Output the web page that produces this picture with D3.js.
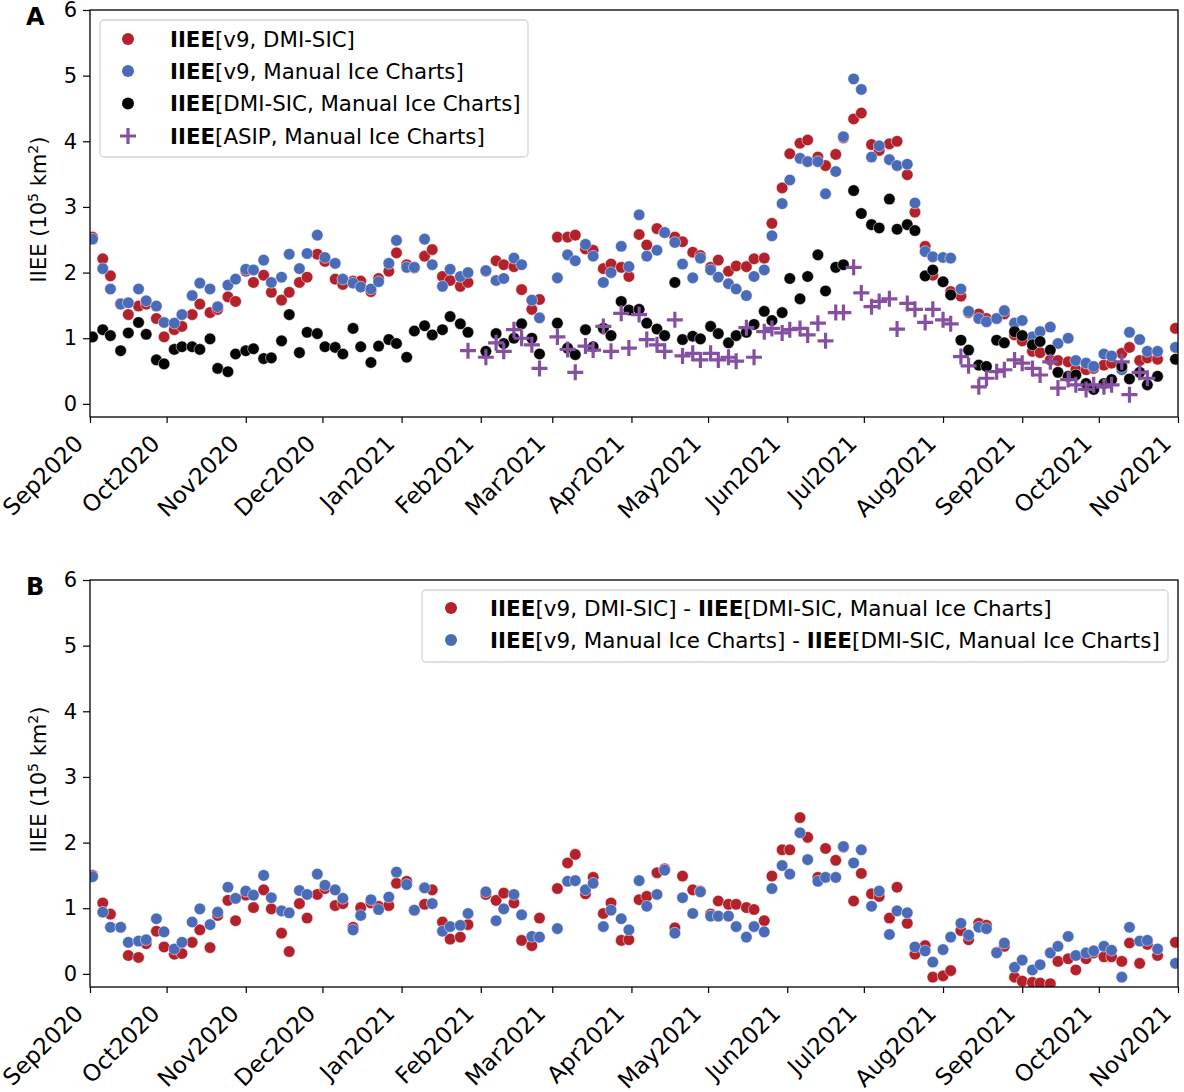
<!DOCTYPE html>
<html lang="en">
<head>
<meta charset="UTF-8">
<title>IIEE time series</title>
<style>
    body { margin: 0; background: #fff; }
    svg text { font-family: "DejaVu Sans", sans-serif; fill: #000; }
</style>
</head>
<body>
<svg id="chart" width="1184" height="1092"></svg>
<script src="https://cdnjs.cloudflare.com/ajax/libs/d3/7.8.5/d3.min.js"></script>
<script>
// days after 1 Sep 2020 of every sample
const dayOffsets = [
    1, 5, 8, 12, 15, 19, 22, 26, 29, 33,
    36, 40, 43, 47, 50, 54, 57, 61, 64, 68,
    71, 75, 78, 82, 85, 89, 92, 96, 99, 103,
    106, 110, 113, 117, 120, 124, 127, 131, 134, 138,
    141, 145, 148, 152, 155, 159, 162, 166, 169, 173,
    176, 180, 183, 187, 190, 194, 197, 201, 204, 208,
    211, 215, 218, 222, 225, 229, 232, 236, 239, 243,
    246, 250, 253, 257, 260, 264, 267, 271, 274, 278,
    281, 285, 288, 292, 295, 299, 302, 306, 309, 313,
    316, 320, 323, 327, 330, 334, 337, 341, 344, 348,
    351, 355, 358, 362, 365, 369, 372, 376, 379, 383,
    386, 390, 393, 397, 400, 404, 407, 411, 414, 418,
    421, 425
];

// panel A
const v9DmiSic = [
    2.54, 2.21, 1.95, 1.53, 1.36, 1.49, 1.52, 1.30, 1.02, 1.13,
    1.18, 1.36, 1.52, 1.39, 1.44, 1.63, 1.56, 2.02, 1.85, 1.96,
    1.70, 1.58, 1.70, 1.85, 1.93, 2.28, 2.17, 1.90, 1.82, 1.87,
    1.87, 1.71, 1.91, 2.02, 2.30, 2.12, 2.07, 2.25, 2.35, 1.94,
    1.88, 1.79, 1.85, null, 2.02, 2.18, 2.12, 2.09, 1.74, 1.44,
    1.59, null, 2.54, 2.54, 2.57, 2.36, 2.34, 2.06, 2.13, 2.08,
    1.94, 2.58, 2.42, 2.67, 2.61, 2.54, 2.47, 2.31, 2.26, 2.08,
    2.19, 2.02, 2.10, 2.09, 2.21, 2.22, 2.75, 3.29, 3.81, 3.97,
    4.02, 3.76, 3.63, 3.80, 4.05, 4.34, 4.43, 3.95, 3.86, 3.96,
    4.00, 3.49, 2.92, 2.40, 1.96, 1.86, 1.71, 1.64, 1.39, 1.37,
    1.30, 1.30, 1.37, 1.05, 0.96, 0.80, 0.78, 0.67, 0.66, 0.64,
    0.52, 0.52, 0.54, 0.59, 0.62, 0.77, 0.86, 0.66, 0.70, 0.68,
    null, 1.15
];
const v9Manual = [
    2.51, 2.06, 1.75, 1.52, 1.54, 1.75, 1.57, 1.49, 1.24, 1.23,
    1.36, 1.65, 1.84, 1.75, 1.48, 1.81, 1.90, 2.05, 2.04, 2.19,
    1.85, 1.93, 2.28, 2.06, 2.29, 2.57, 2.23, 2.14, 1.90, 1.84,
    1.78, 1.75, 1.86, 2.14, 2.49, 2.08, 2.08, 2.51, 2.12, 1.79,
    2.05, 1.94, 2.00, null, 2.03, 1.88, 1.91, 2.22, 2.12, 1.58,
    1.31, null, 1.92, 2.27, 2.18, 2.43, 2.25, 1.85, 2.00, 2.40,
    2.09, 2.88, 2.25, 2.34, 2.61, 2.46, 2.13, 1.92, 2.22, 2.04,
    1.93, 1.83, 1.75, 1.65, 1.94, 2.04, 2.56, 3.05, 3.41, 3.74,
    3.69, 3.69, 3.20, 3.54, 4.07, 4.95, 4.79, 3.76, 3.93, 3.72,
    3.63, 3.65, 3.06, 2.32, 2.24, 2.23, 2.22, 1.75, 1.41, 1.30,
    1.25, 1.30, 1.42, 1.23, 1.27, 1.02, 1.10, 1.17, 0.92, 1.00,
    0.66, 0.62, 0.57, 0.76, 0.73, 0.52, 1.09, 0.98, 0.80, 0.80,
    null, 0.86
];
const dmiManual = [
    1.02, 1.13, 1.04, 0.81, 1.08, 1.24, 1.06, 0.67, 0.61, 0.83,
    0.87, 0.87, 0.83, 0.99, 0.54, 0.49, 0.76, 0.81, 0.84, 0.69,
    0.70, 0.96, 1.36, 0.78, 1.09, 1.07, 0.87, 0.86, 0.76, 1.15,
    0.87, 0.63, 0.88, 0.98, 0.92, 0.71, 1.11, 1.19, 1.05, 1.13,
    1.33, 1.22, 1.09, null, 0.80, 1.07, 0.92, 1.00, 1.22, 1.00,
    0.76, null, 1.23, 0.85, 0.75, 1.13, 0.87, 1.15, 1.04, 1.56,
    1.43, 1.44, 1.23, 1.14, 1.04, 1.85, 0.98, 1.03, 0.99, 1.18,
    1.07, 0.93, 1.04, 1.09, 1.21, 1.41, 1.27, 1.39, 1.91, 1.60,
    1.94, 2.27, 1.72, 2.08, 2.12, 3.25, 2.90, 2.73, 2.68, 3.12,
    2.66, 2.73, 2.64, 1.95, 2.04, 1.86, 1.66, 0.97, 0.82, 0.59,
    0.57, 0.97, 0.93, 1.10, 1.04, 0.90, 0.95, 0.82, 0.48, 0.42,
    0.44, 0.31, 0.22, 0.31, 0.37, 0.57, 0.38, 0.48, 0.29, 0.42,
    null, 0.68
];
// ASIP series starts at sample 42
const ASIP_FIRST = 42;
const asipManual = [
    0.81, null, 0.71, 0.93, 0.80, 1.13, 1.00, 0.90, 0.54, null,
    1.02, 0.83, 0.48, 0.88, 0.82, 1.18, 0.80, 1.38, 0.85, 1.36,
    0.98, 0.90, 0.80, 1.28, 0.73, 0.77, 0.67, 0.77, 0.67, 0.71,
    0.65, 1.16, 0.71, 1.10, 1.15, 1.08, 1.13, 1.15, 1.05, 1.23,
    0.96, 1.39, 1.39, 2.08, 1.69, 1.48, 1.56, 1.60, 1.14, 1.53,
    1.44, 1.24, 1.44, 1.28, 1.22, 0.72, 0.58, 0.26, 0.39, 0.49,
    0.52, 0.67, 0.62, 0.54, 0.44, 0.64, 0.24, 0.37, 0.29, 0.22,
    0.29, 0.26, 0.29, 0.64, 0.14, 0.48, 0.39
];

// panel B
const diffV9Dmi = [
    1.50, 1.08, 0.91, 0.71, 0.28, 0.25, 0.46, 0.65, 0.41, 0.30,
    0.31, 0.48, 0.67, 0.40, 0.89, 1.12, 0.81, 1.20, 1.01, 1.28,
    0.99, 0.62, 0.34, 1.07, 0.85, 1.21, 1.30, 1.04, 1.07, 0.71,
    1.01, 1.08, 1.03, 1.04, 1.38, 1.41, 0.97, 1.06, 1.28, 0.79,
    0.53, 0.56, 0.75, null, 1.21, 1.12, 1.23, 1.08, 0.51, 0.43,
    0.85, null, 1.30, 1.69, 1.82, 1.22, 1.47, 0.92, 1.08, 0.51,
    0.52, 1.13, 1.18, 1.54, 1.60, 0.70, 1.49, 1.28, 1.26, 0.91,
    1.11, 1.06, 1.06, 1.01, 0.98, 0.81, 1.49, 1.89, 1.89, 2.38,
    2.08, 1.47, 1.91, 1.73, 1.93, 1.11, 1.53, 1.22, 1.18, 0.85,
    1.32, 0.77, 0.30, 0.43, -0.05, -0.03, 0.05, 0.66, 0.52, 0.77,
    0.74, 0.33, 0.42, -0.05, -0.11, -0.13, -0.14, -0.15, 0.19, 0.23,
    0.06, 0.23, 0.32, 0.26, 0.26, 0.19, 0.47, 0.16, 0.45, 0.28,
    null, 0.48
];
const diffV9Manual = [
    1.48, 0.94, 0.71, 0.71, 0.48, 0.50, 0.52, 0.84, 0.64, 0.38,
    0.48, 0.79, 0.99, 0.75, 0.94, 1.32, 1.15, 1.26, 1.20, 1.50,
    1.16, 0.96, 0.93, 1.27, 1.21, 1.52, 1.35, 1.28, 1.15, 0.67,
    0.89, 1.13, 0.98, 1.17, 1.55, 1.36, 0.97, 1.31, 1.07, 0.65,
    0.72, 0.74, 0.92, null, 1.25, 0.81, 0.99, 1.21, 0.90, 0.57,
    0.56, null, 0.69, 1.41, 1.42, 1.28, 1.38, 0.72, 0.97, 0.84,
    0.67, 1.42, 1.03, 1.21, 1.58, 0.62, 1.16, 0.92, 1.25, 0.88,
    0.88, 0.88, 0.72, 0.56, 0.72, 0.64, 1.30, 1.65, 1.52, 2.15,
    1.74, 1.41, 1.47, 1.47, 1.94, 1.69, 1.89, 1.03, 1.26, 0.60,
    0.96, 0.93, 0.41, 0.35, 0.18, 0.37, 0.56, 0.77, 0.59, 0.71,
    0.69, 0.32, 0.47, 0.10, 0.21, 0.06, 0.14, 0.32, 0.42, 0.57,
    0.28, 0.32, 0.35, 0.42, 0.36, -0.05, 0.71, 0.50, 0.51, 0.38,
    null, 0.16
];

const yTicks = [0, 1, 2, 3, 4, 5, 6];

const RED = '#b3222b', BLUE = '#4a6bb7', BLACK = '#050505', PURPLE = '#8550a2';

const svg = d3.select('#chart');
const left = 90, right = 1178;
const t0 = Date.UTC(2020, 8, 1);
const dateOf = d => new Date(t0 + d * 864e5);

const x = d3.scaleUtc()
    .domain([new Date(Date.UTC(2020, 8, 1)), new Date(Date.UTC(2021, 10, 1))])
    .range([left, right]);

function toPoints(values, first) {
    return values.map((v, k) => ({ date: dateOf(dayOffsets[k + first]), v: v }))
        .filter(p => p.v !== null);
}

function drawPanel(top, bottom, letter, series, id) {
    const y = d3.scaleLinear().domain([-0.2, 6]).range([bottom, top]);
    const g = svg.append('g');

    g.append('clipPath').attr('id', id)
        .append('rect').attr('x', left).attr('y', top)
        .attr('width', right - left).attr('height', bottom - top);

    const plot = g.append('g').attr('clip-path', `url(#${id})`);

    series.forEach(s => {
        const pts = toPoints(s.values, s.first || 0);
        if (s.shape === 'plus') {
            plot.selectAll(null).data(pts).enter().append('path')
                .attr('d', 'M-8,0H8M0,-8V8')
                .attr('transform', d => `translate(${x(d.date)},${y(d.v)})`)
                .attr('stroke', s.color).attr('stroke-width', 3.2).attr('fill', 'none');
        } else {
            plot.selectAll(null).data(pts).enter().append('circle')
                .attr('cx', d => x(d.date)).attr('cy', d => y(d.v))
                .attr('r', 5.8).attr('fill', s.color)
                .attr('stroke', '#fff').attr('stroke-width', 0.5);
        }
    });

    // y axis
    const ya = g.append('g').attr('transform', `translate(${left},0)`)
        .call(d3.axisLeft(y).tickValues(yTicks).tickFormat(d3.format('d'))
            .tickSize(7).tickPadding(6).tickSizeOuter(0));
    ya.select('.domain').remove();
    ya.selectAll('line').attr('stroke', '#000').attr('stroke-width', 1.2);
    ya.selectAll('text').style('font-size', '21px').attr('font-family', null);

    // x axis
    const xa = g.append('g').attr('transform', `translate(0,${bottom})`)
        .call(d3.axisBottom(x).ticks(d3.utcMonth.every(1)).tickFormat(d3.utcFormat('%b%Y'))
            .tickSize(6).tickSizeOuter(0));
    xa.select('.domain').remove();
    xa.selectAll('line').attr('stroke', '#000').attr('stroke-width', 1.2);
    xa.selectAll('text')
        .style('font-size', '23px').attr('font-family', null)
        .attr('y', 0).attr('dy', null)
        .attr('text-anchor', 'end')
        .attr('transform', 'translate(-6,28) rotate(-45)');

    // frame
    g.append('rect').attr('x', left).attr('y', top)
        .attr('width', right - left).attr('height', bottom - top)
        .attr('fill', 'none').attr('stroke', '#000').attr('stroke-width', 1.3);

    // y label
    const yl = g.append('text')
        .attr('transform', `translate(46,${(top + bottom) / 2 - 4}) rotate(-90)`)
        .attr('text-anchor', 'middle').style('font-size', '21px');
    yl.append('tspan').text('IIEE (10');
    yl.append('tspan').attr('dy', -8).style('font-size', '14px').text('5');
    yl.append('tspan').attr('dy', 8).text(' km');
    yl.append('tspan').attr('dy', -8).style('font-size', '14px').text('2');
    yl.append('tspan').attr('dy', 8).text(')');

    g.append('text').attr('x', 26).attr('y', top + 15)
        .style('font-size', '24px').style('font-weight', 'bold').text(letter);

    return g;
}

function legend(g, box, rows, textX, widths) {
    g.append('rect').attr('x', box.x).attr('y', box.y)
        .attr('width', box.w).attr('height', box.h).attr('rx', 4)
        .attr('fill', '#fff').attr('fill-opacity', 0.85)
        .attr('stroke', '#d4d4d4').attr('stroke-width', 1.3);
    rows.forEach((r, k) => {
        const cy = r.cy;
        if (r.shape === 'plus') {
            g.append('path').attr('d', 'M-8,0H8M0,-8V8')
                .attr('transform', `translate(${r.mx},${cy})`)
                .attr('stroke', r.color).attr('stroke-width', 3.2).attr('fill', 'none');
        } else {
            g.append('circle').attr('cx', r.mx).attr('cy', cy).attr('r', 6).attr('fill', r.color);
        }
        const t = g.append('text').attr('x', 0).attr('y', 0).style('font-size', '21px');
        r.parts.forEach(p => {
            t.append('tspan').style('font-weight', p[0] ? 'bold' : 'normal').text(p[1]);
        });
        let sx = 1;
        if (widths) {
            sx = widths[k] / t.node().getComputedTextLength();
        }
        t.attr('transform', `translate(${textX},${cy + 7.5}) scale(${sx},1)`);
    });
}

const gA = drawPanel(10, 417, 'A', [
    { values: v9DmiSic, color: RED },
    { values: v9Manual, color: BLUE },
    { values: dmiManual, color: BLACK },
    { values: asipManual, color: PURPLE, shape: 'plus', first: ASIP_FIRST }
], 'clipA');

legend(gA, { x: 100, y: 20, w: 428, h: 137 }, [
    { cy: 39, mx: 128, color: RED, parts: [[1, 'IIEE'], [0, '[v9, DMI-SIC]']] },
    { cy: 71, mx: 128, color: BLUE, parts: [[1, 'IIEE'], [0, '[v9, Manual Ice Charts]']] },
    { cy: 103.5, mx: 128, color: BLACK, parts: [[1, 'IIEE'], [0, '[DMI-SIC, Manual Ice Charts]']] },
    { cy: 136, mx: 128, color: PURPLE, shape: 'plus', parts: [[1, 'IIEE'], [0, '[ASIP, Manual Ice Charts]']] }
], 170, [185, 294, 351, 315]);

const gB = drawPanel(580, 987, 'B', [
    { values: diffV9Dmi, color: RED },
    { values: diffV9Manual, color: BLUE }
], 'clipB');

legend(gB, { x: 422, y: 590, w: 746, h: 72 }, [
    { cy: 608, mx: 451, color: RED,
      parts: [[1, 'IIEE'], [0, '[v9, DMI-SIC] - '], [1, 'IIEE'], [0, '[DMI-SIC, Manual Ice Charts]']] },
    { cy: 640, mx: 451, color: BLUE,
      parts: [[1, 'IIEE'], [0, '[v9, Manual Ice Charts] - '], [1, 'IIEE'], [0, '[DMI-SIC, Manual Ice Charts]']] }
], 490, [562, 670]);
</script>
